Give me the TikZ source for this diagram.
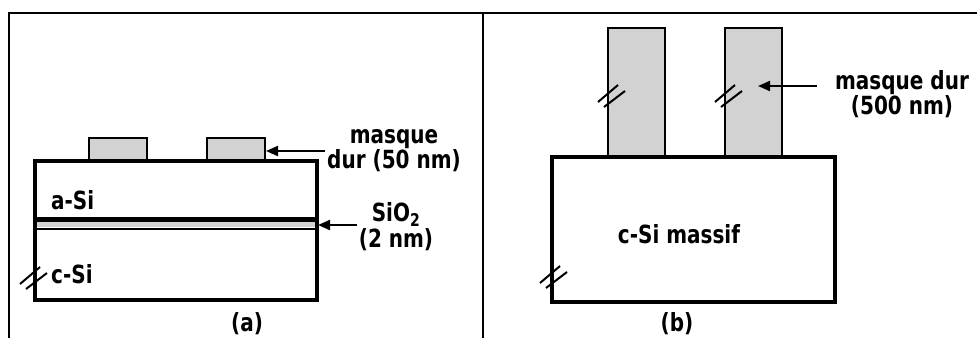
\documentclass[tikz,border=0pt]{standalone}
\usepackage{fontspec}
\setmainfont{DejaVu Sans}[FakeStretch=0.8]
\usetikzlibrary{arrows.meta,calc}

\tikzset{
  coupure/.pic={\draw[line width=2bp] (-13,6) -- (7,-11); \draw[line width=2bp] (-7,11) -- (14,-5);}
}

\begin{document}
\begin{tikzpicture}[x=1bp,y=-1bp,
    couche/.style={draw,line width=3.5bp},
    masque/.style={draw,line width=2.5bp,fill=gray!35},
    fleche/.style={-{Triangle[length=12bp,width=10bp]},line width=2bp},
    lbl/.style={font=\bfseries\fontsize{25bp}{24bp}\selectfont,inner sep=2bp,align=center}]
  \useasboundingbox (0,0) rectangle (977,338);
  % cadre
  \draw[line width=2bp] (9,338) -- (9,13) -- (977,13);
  \draw[line width=2bp] (483,13) -- (483,338);

  % (a) a-Si sur SiO2
  \foreach \x in {89,207} \draw[masque] (\x,138) rectangle ++(58,23);
  \fill[gray!35] (35,222) rectangle (317,227);
  \draw[line width=5bp] (35,219) -- (317,219);
  \draw[line width=2bp] (35,228.5) -- (317,228.5);
  \draw[couche] (35,161) rectangle (317,300);
  \pic at (33,278) {coupure};

  \node[lbl,anchor=west] (aSi) at (49,200) {a-Si};
  \node[lbl,anchor=west] (cSi) at (49,274) {c-Si};
  \node[lbl] (masqueA) at (394,151) {masque\\dur (50 nm)};
  \node[lbl] (oxyde) at (396,227) {SiO\textsubscript{2}\\[2bp](2 nm)};
  \coordinate (pointeA) at (266,151);
  \coordinate (pointeOx) at (318,225);
  \draw[fleche] (masqueA.west |- pointeA) -- (pointeA);
  \draw[fleche] (oxyde.west |- pointeOx) -- (pointeOx);
  \node[lbl] (titreA) at (247,324) {(a)};

  % (b) c-Si massif
  \foreach \x in {608,725} \draw[masque] (\x,28) rectangle ++(57,129);
  \draw[couche] (552,157) rectangle (835,302);
  \foreach \p in {(611,96),(728,96),(553,277)} \pic at \p {coupure};

  \node[lbl] (massif) at (679,234) {c-Si massif};
  \node[lbl] (masqueB) at (902,94) {masque dur\\(500 nm)};
  \coordinate (pointeB) at (758,86);
  \draw[fleche] ($(masqueB.west |- pointeB)+(-16,0)$) -- (pointeB);
  \node[lbl] (titreB) at (677,324) {(b)};
\end{tikzpicture}
\end{document}
